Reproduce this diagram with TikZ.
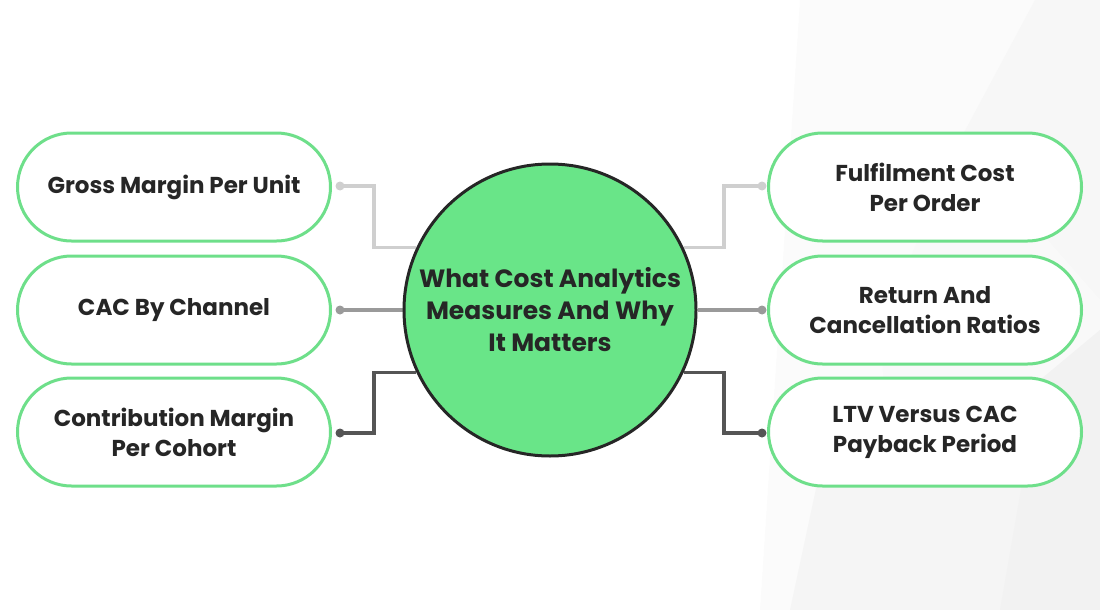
\documentclass[tikz,border=0pt]{standalone}
\usepackage{fontspec}
\setmainfont{Poppins}
\usetikzlibrary{positioning}

\definecolor{pillgreen}{HTML}{6EDF8A}
\definecolor{hubgreen}{HTML}{69E588}
\definecolor{inkdark}{HTML}{262626}
\definecolor{wireA}{HTML}{CFCFCF}
\definecolor{wireB}{HTML}{9A9A9A}
\definecolor{wireC}{HTML}{555555}

\tikzset{
  pill/.style={draw=pillgreen, line width=3pt, fill=white, rectangle,
    rounded corners=54pt, minimum width=313pt, minimum height=108pt,
    align=center, text=inkdark, font=\bfseries\fontsize{23}{30}\selectfont},
  hub/.style={draw=inkdark, line width=3pt, fill=hubgreen, circle,
    minimum size=292pt, inner sep=0pt, align=center, text=inkdark,
    font=\bfseries\fontsize{25}{32}\selectfont},
  wire/.style={line width=3.5pt}
}

\begin{document}
\begin{tikzpicture}[x=1pt, y=-1pt]
  \useasboundingbox (0,0) rectangle (1100,610);

  % Nền xám nhạt bên phải
  \fill[gray!3] (800,0) -- (1100,0) -- (1100,610) -- (760,610) -- cycle;
  \fill[gray!6] (1035,0) -- (1100,0) -- (1100,300) -- (960,140) -- cycle;
  \fill[gray!5] (960,140) -- (1100,300) -- (1100,610) -- (900,610) -- (880,330) -- cycle;
  \fill[gray!8] (820,470) -- (1100,430) -- (1100,610) -- (790,610) -- cycle;
  \fill[gray!10] (1040,380) -- (1100,330) -- (1100,610) -- (1000,610) -- cycle;

  % Các ô hai bên
  \node[pill] (g1) at (174,187) {Gross Margin Per Unit};
  \node[pill] (g2) at (174,310) {CAC By Channel};
  \node[pill] (g3) at (174,432) {Contribution Margin\\Per Cohort};
  \node[pill] (f1) at (925,187) {Fulfilment Cost\\Per Order};
  \node[pill] (f2) at (925,310) {Return And\\Cancellation Ratios};
  \node[pill] (f3) at (925,432) {LTV Versus CAC\\Payback Period};

  % Điểm nối
  \coordinate (d1) at (340,186);
  \coordinate (d2) at (340,310);
  \coordinate (d3) at (340,433);
  \coordinate (e1) at (762,186);
  \coordinate (e2) at (762,310);
  \coordinate (e3) at (762,433);

  % Hình tròn trung tâm (chỉ để lấy vị trí)
  \path (550,310) node[hub, draw=none, fill=none] (c) {};

  % Dây nối
  \draw[wire, wireA] (d1) -- ++(34,0) |- (c.155);
  \draw[wire, wireB] (d2) -- (c.180);
  \draw[wire, wireC] (d3) -- ++(34,0) |- (c.205);
  \draw[wire, wireA] (e1) -- ++(-38,0) |- (c.25);
  \draw[wire, wireB] (e2) -- (c.0);
  \draw[wire, wireC] (e3) -- ++(-38,0) |- (c.-25);
  \fill[wireA] (d1) circle (4.5) (e1) circle (4.5);
  \fill[wireB] (d2) circle (4.5) (e2) circle (4.5);
  \fill[wireC] (d3) circle (4.5) (e3) circle (4.5);

  % Hình tròn trung tâm
  \node[hub] (hub) at (550,310) {What Cost Analytics\\Measures And Why\\It Matters};
\end{tikzpicture}
\end{document}
